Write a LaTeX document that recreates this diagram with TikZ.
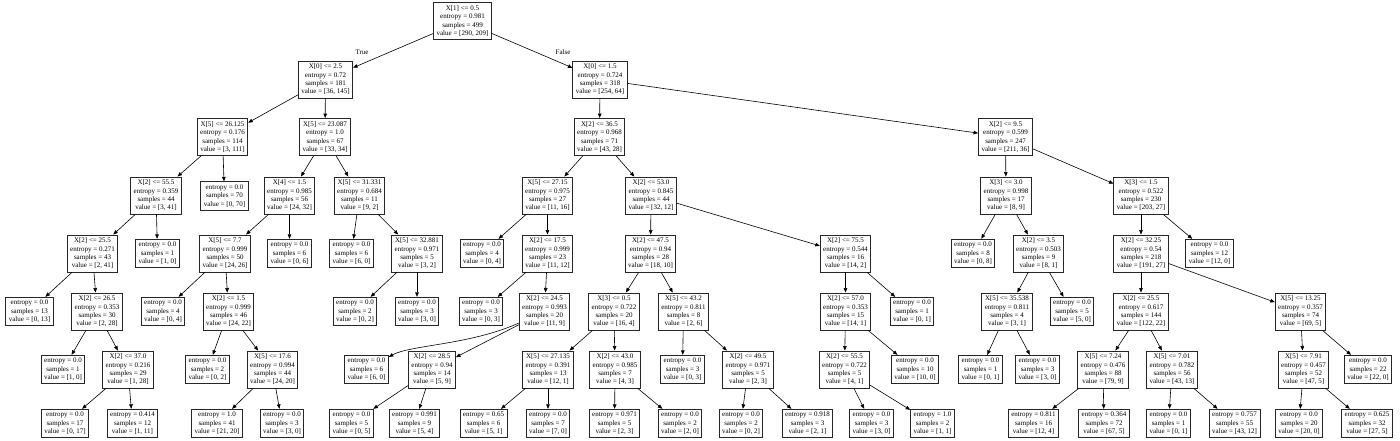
\documentclass[tikz,border=0pt]{standalone}
\usepackage{fontspec}
\setmainfont{Liberation Serif}
\usetikzlibrary{arrows.meta}

\newcommand{\splitlbl}[5]{X[#1] <= #2\\entropy = #3\\samples = #4\\value = [#5]}
\newcommand{\leaflbl}[3]{entropy = #1\\samples = #2\\value = [#3]}

\begin{document}
\begin{tikzpicture}[x=1pt,y=-1pt,
  split/.style={draw=black!85,line width=0.8pt,fill=white,align=center,
                inner xsep=3pt,inner ysep=3pt,font=\fontsize{7}{8.4}\selectfont},
  leaf/.style={split},
  arista/.style={-{Triangle[length=4.5pt,width=3.6pt]},line width=0.6pt,color=black},
  rama/.style={font=\fontsize{7}{8.4}\selectfont}]
  \useasboundingbox (0,0) rectangle (1400,441);
  % nivel 0-1
  \node[split] (n0) at (462.5,21) {\splitlbl{1}{0.5}{0.981}{499}{290, 209}};
  \node[split] (n1) at (325.5,79.5) {\splitlbl{0}{2.5}{0.72}{181}{36, 145}};
  \node[split] (n28) at (600,79.5) {\splitlbl{0}{1.5}{0.724}{318}{254, 64}};
  \node[rama] (verdadero) at (362,52) {True};
  \node[rama] (falso) at (563,52) {False};
  % nivel 2
  \node[split] (n2) at (222.5,137) {\splitlbl{5}{26.125}{0.176}{114}{3, 111}};
  \node[split] (n13) at (325,137) {\splitlbl{5}{23.087}{1.0}{67}{33, 34}};
  \node[split] (n29) at (599.5,137) {\splitlbl{2}{36.5}{0.968}{71}{43, 28}};
  \node[split] (n60) at (1005.5,137) {\splitlbl{2}{9.5}{0.599}{247}{211, 36}};
  % nivel 3
  \node[split] (n3) at (156,195.5) {\splitlbl{2}{55.5}{0.359}{44}{3, 41}};
  \node[leaf] (n12) at (224.5,196) {\leaflbl{0.0}{70}{0, 70}};
  \node[split] (n14) at (289.5,195.5) {\splitlbl{4}{1.5}{0.985}{56}{24, 32}};
  \node[split] (n23) at (359.5,195.5) {\splitlbl{5}{31.331}{0.684}{11}{9, 2}};
  \node[split] (n30) at (547.5,195.5) {\splitlbl{5}{27.15}{0.975}{27}{11, 16}};
  \node[split] (n39) at (651,195.5) {\splitlbl{2}{53.0}{0.845}{44}{32, 12}};
  \node[split] (n61) at (1006,195.5) {\splitlbl{3}{3.0}{0.998}{17}{8, 9}};
  \node[split] (n68) at (1141,195.5) {\splitlbl{3}{1.5}{0.522}{230}{203, 27}};
  % nivel 4
  \node[split] (n4) at (92.5,253.5) {\splitlbl{2}{25.5}{0.271}{43}{2, 41}};
  \node[leaf] (n11) at (157.5,253.5) {\leaflbl{0.0}{1}{1, 0}};
  \node[split] (n15) at (225,253.5) {\splitlbl{5}{7.7}{0.999}{50}{24, 26}};
  \node[leaf] (n22) at (289.5,253.5) {\leaflbl{0.0}{6}{0, 6}};
  \node[leaf] (n24) at (351.5,253.5) {\leaflbl{0.0}{6}{6, 0}};
  \node[split] (n25) at (417,253.5) {\splitlbl{5}{32.881}{0.971}{5}{3, 2}};
  \node[leaf] (n31) at (482,253.5) {\leaflbl{0.0}{4}{0, 4}};
  \node[split] (n32) at (547.5,253.5) {\splitlbl{2}{17.5}{0.999}{23}{11, 12}};
  \node[split] (n40) at (650.5,253.5) {\splitlbl{2}{47.5}{0.94}{28}{18, 10}};
  \node[split] (n53) at (845.5,253.5) {\splitlbl{2}{75.5}{0.544}{16}{14, 2}};
  \node[leaf] (n62) at (973,253.5) {\leaflbl{0.0}{8}{0, 8}};
  \node[split] (n63) at (1038.5,253.5) {\splitlbl{2}{3.5}{0.503}{9}{8, 1}};
  \node[split] (n69) at (1141,253.5) {\splitlbl{2}{32.25}{0.54}{218}{191, 27}};
  \node[leaf] (n82) at (1209.5,253.5) {\leaflbl{0.0}{12}{12, 0}};
  % nivel 5
  \node[leaf] (n5) at (29.5,311.5) {\leaflbl{0.0}{13}{0, 13}};
  \node[split] (n6) at (97,311.5) {\splitlbl{2}{26.5}{0.353}{30}{2, 28}};
  \node[leaf] (n16) at (163,311.5) {\leaflbl{0.0}{4}{0, 4}};
  \node[split] (n17) at (228.5,311.5) {\splitlbl{2}{1.5}{0.999}{46}{24, 22}};
  \node[leaf] (n26) at (355,311.5) {\leaflbl{0.0}{2}{0, 2}};
  \node[leaf] (n27) at (417,311.5) {\leaflbl{0.0}{3}{3, 0}};
  \node[leaf] (n33) at (481,311.5) {\leaflbl{0.0}{3}{0, 3}};
  \node[split] (n34) at (544.5,311.5) {\splitlbl{2}{24.5}{0.993}{20}{11, 9}};
  \node[split] (n41) at (614,311.5) {\splitlbl{3}{0.5}{0.722}{20}{16, 4}};
  \node[split] (n48) at (683.5,311.5) {\splitlbl{5}{43.2}{0.811}{8}{2, 6}};
  \node[split] (n54) at (845.5,311.5) {\splitlbl{2}{57.0}{0.353}{15}{14, 1}};
  \node[leaf] (n59) at (912,311.5) {\leaflbl{0.0}{1}{0, 1}};
  \node[split] (n64) at (1007,311.5) {\splitlbl{5}{35.538}{0.811}{4}{3, 1}};
  \node[leaf] (n67) at (1072,311.5) {\leaflbl{0.0}{5}{5, 0}};
  \node[split] (n70) at (1141,311.5) {\splitlbl{2}{25.5}{0.617}{144}{122, 22}};
  \node[split] (n77) at (1300.5,311.5) {\splitlbl{5}{13.25}{0.357}{74}{69, 5}};
  % nivel 6
  \node[leaf] (n7) at (63,369.5) {\leaflbl{0.0}{1}{1, 0}};
  \node[split] (n8) at (128,369.5) {\splitlbl{2}{37.0}{0.216}{29}{1, 28}};
  \node[leaf] (n18) at (207.5,369.5) {\leaflbl{0.0}{2}{0, 2}};
  \node[split] (n19) at (272.5,369.5) {\splitlbl{5}{17.6}{0.994}{44}{24, 20}};
  \node[leaf] (n35) at (366.5,369.5) {\leaflbl{0.0}{6}{6, 0}};
  \node[split] (n36) at (432,369.5) {\splitlbl{2}{28.5}{0.94}{14}{5, 9}};
  \node[split] (n42) at (548,369.5) {\splitlbl{5}{27.135}{0.391}{13}{12, 1}};
  \node[split] (n45) at (615,369.5) {\splitlbl{2}{43.0}{0.985}{7}{4, 3}};
  \node[leaf] (n49) at (682.5,369.5) {\leaflbl{0.0}{3}{0, 3}};
  \node[split] (n50) at (748,369.5) {\splitlbl{2}{49.5}{0.971}{5}{2, 3}};
  \node[split] (n55) at (844.5,369.5) {\splitlbl{2}{55.5}{0.722}{5}{4, 1}};
  \node[leaf] (n58) at (915,369.5) {\leaflbl{0.0}{10}{10, 0}};
  \node[leaf] (n65) at (980.5,369.5) {\leaflbl{0.0}{1}{0, 1}};
  \node[leaf] (n66) at (1037.5,369.5) {\leaflbl{0.0}{3}{3, 0}};
  \node[split] (n71) at (1103,369.5) {\splitlbl{5}{7.24}{0.476}{88}{79, 9}};
  \node[split] (n74) at (1172,369.5) {\splitlbl{5}{7.01}{0.782}{56}{43, 13}};
  \node[split] (n78) at (1303.5,369.5) {\splitlbl{5}{7.91}{0.457}{52}{47, 5}};
  \node[leaf] (n81) at (1368,369.5) {\leaflbl{0.0}{22}{22, 0}};
  % nivel 7
  \node[leaf] (n9) at (65,423.5) {\leaflbl{0.0}{17}{0, 17}};
  \node[leaf] (n10) at (132.5,423.5) {\leaflbl{0.414}{12}{1, 11}};
  \node[leaf] (n20) at (217,423.5) {\leaflbl{1.0}{41}{21, 20}};
  \node[leaf] (n21) at (282,423.5) {\leaflbl{0.0}{3}{3, 0}};
  \node[leaf] (n37) at (351.5,423.5) {\leaflbl{0.0}{5}{0, 5}};
  \node[leaf] (n38) at (414.5,423.5) {\leaflbl{0.991}{9}{5, 4}};
  \node[leaf] (n43) at (483.5,423.5) {\leaflbl{0.65}{6}{5, 1}};
  \node[leaf] (n44) at (548,423.5) {\leaflbl{0.0}{7}{7, 0}};
  \node[leaf] (n46) at (614.5,423.5) {\leaflbl{0.971}{5}{2, 3}};
  \node[leaf] (n47) at (680,423.5) {\leaflbl{0.0}{2}{2, 0}};
  \node[leaf] (n51) at (741,423.5) {\leaflbl{0.0}{2}{0, 2}};
  \node[leaf] (n52) at (807.5,423.5) {\leaflbl{0.918}{3}{2, 1}};
  \node[leaf] (n56) at (871.5,423.5) {\leaflbl{0.0}{3}{3, 0}};
  \node[leaf] (n57) at (932.5,423.5) {\leaflbl{1.0}{2}{1, 1}};
  \node[leaf] (n72) at (1033.5,423.5) {\leaflbl{0.811}{16}{12, 4}};
  \node[leaf] (n73) at (1104,423.5) {\leaflbl{0.364}{72}{67, 5}};
  \node[leaf] (n75) at (1168.5,423.5) {\leaflbl{0.0}{1}{0, 1}};
  \node[leaf] (n76) at (1234.5,423.5) {\leaflbl{0.757}{55}{43, 12}};
  \node[leaf] (n79) at (1299,423.5) {\leaflbl{0.0}{20}{20, 0}};
  \node[leaf] (n80) at (1367,423.5) {\leaflbl{0.625}{32}{27, 5}};
  % aristas
  \foreach \a/\b in {0/1,0/28,1/2,1/13,2/3,2/12,3/4,3/11,4/5,4/6,6/7,6/8,8/9,8/10,
    13/14,13/23,14/15,14/22,15/16,15/17,17/18,17/19,19/20,19/21,23/24,23/25,25/26,25/27,
    28/29,28/60,29/30,29/39,30/31,30/32,32/33,32/34,34/36,36/37,36/38,
    39/40,39/53,40/41,40/48,41/42,41/45,42/43,42/44,45/46,45/47,48/49,48/50,50/51,50/52,
    53/54,53/59,54/55,54/58,55/56,55/57,60/61,60/68,61/62,61/63,63/64,63/67,64/65,64/66,
    68/69,68/82,69/70,69/77,70/71,70/74,71/72,71/73,74/75,74/76,77/78,77/81,78/79,78/80}
    \draw[arista] (n\a) -- (n\b);
  \draw[arista] (n34) .. controls (470,345) and (410,345) .. (n35);
\end{tikzpicture}
\end{document}
